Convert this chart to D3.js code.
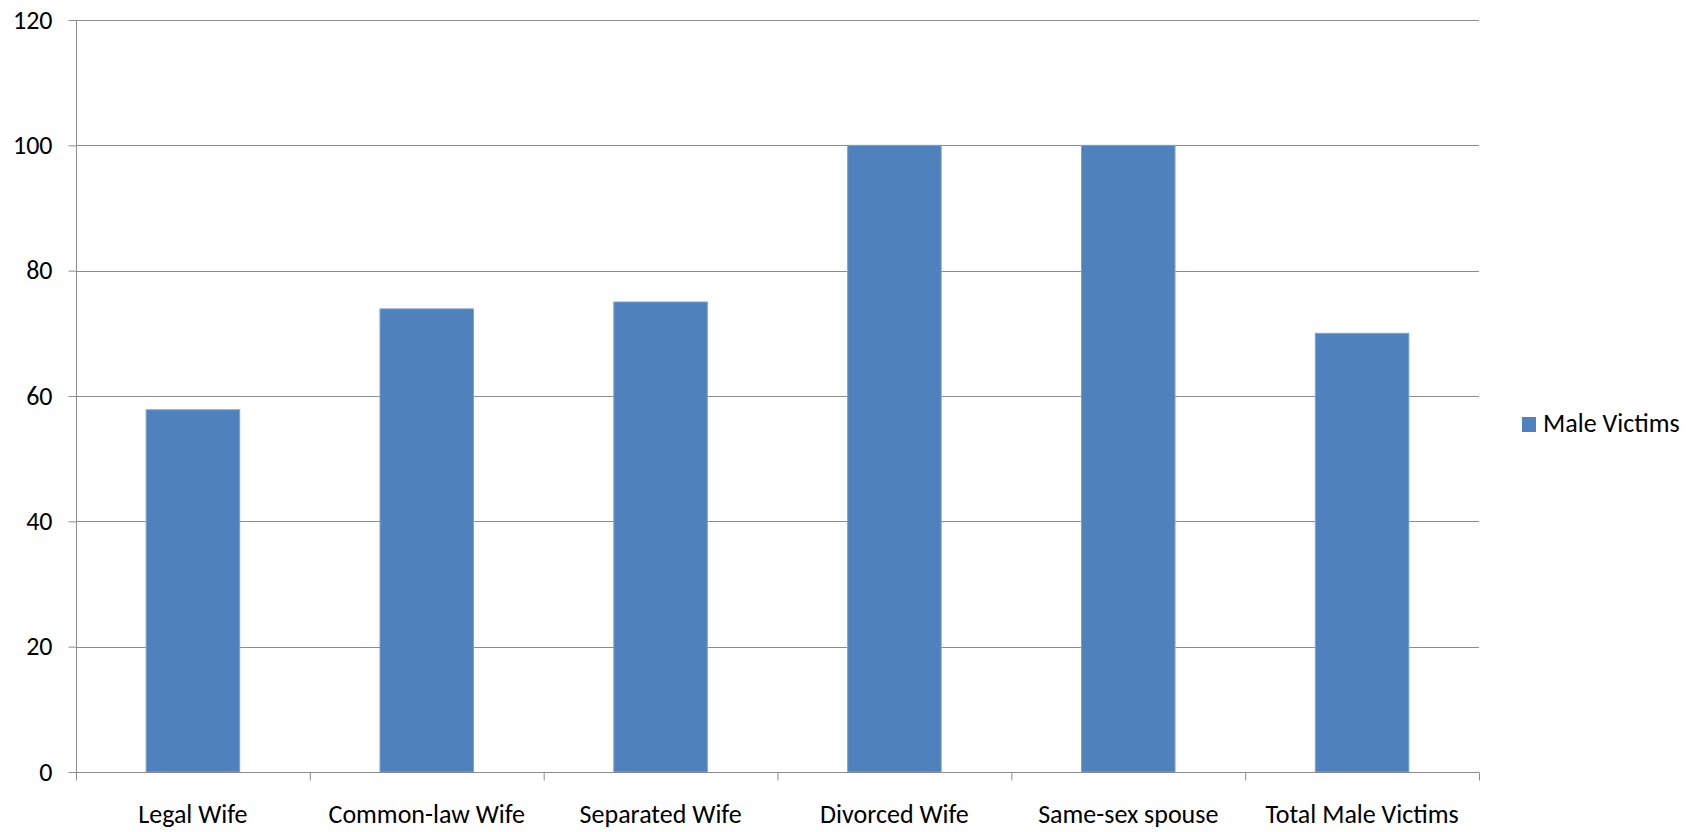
<!DOCTYPE html>
<html>
<head>
<meta charset="utf-8">
<script src="https://cdn.jsdelivr.net/npm/d3@7"></script>
<style>
  html, body { margin: 0; padding: 0; background: #ffffff; }
  svg { display: block; }
  text { font-family: Calibri, Carlito, Lato, "Open Sans", sans-serif; fill: #000; }
</style>
</head>
<body>
<svg id="chart" width="1698" height="832"></svg>
<script>
const categories = ["Legal Wife", "Common-law Wife", "Separated Wife", "Divorced Wife", "Same-sex spouse", "Total Male Victims"];
const maleVictims = [57.8, 73.9, 75, 100, 100, 70];
const yTicks = [0, 20, 40, 60, 80, 100, 120];
const seriesName = "Male Victims";

const W = 1698, H = 832;
const plot = { left: 76, right: 1479, top: 20, bottom: 772 };
const fontSize = 26;
const barColor = "#4F81BD";
const gridColor = "#8c8c8c";

const svg = d3.select("#chart");
svg.append("rect").attr("width", W).attr("height", H).attr("fill", "#fff");

const y = d3.scaleLinear().domain([0, 120]).range([plot.bottom, plot.top]);
const x = d3.scaleBand().domain(categories).range([plot.left, plot.right])
  .paddingInner(0.6).paddingOuter(0.3);
const xEdges = d3.scaleLinear().domain([0, categories.length]).range([plot.left, plot.right]);

// gridlines
svg.append("g").selectAll("line").data(yTicks.filter(d => d > 0)).join("line")
  .attr("x1", plot.left).attr("x2", plot.right)
  .attr("y1", d => Math.round(y(d)) + 0.5).attr("y2", d => Math.round(y(d)) + 0.5)
  .attr("stroke", gridColor).attr("stroke-width", 1);

// bars
svg.append("g").selectAll("rect").data(categories).join("rect")
  .attr("x", d => x(d))
  .attr("width", x.bandwidth())
  .attr("y", (d, i) => y(maleVictims[i]))
  .attr("height", (d, i) => y(0) - y(maleVictims[i]))
  .attr("fill", barColor)
  .attr("stroke", "#7EA1CE")
  .attr("stroke-width", 1);

// y axis
const yAxis = svg.append("g").attr("transform", `translate(${plot.left + 0.5},0)`)
  .call(d3.axisLeft(y).tickValues(yTicks).tickSize(8).tickPadding(16).tickFormat(d3.format("d")));
yAxis.select(".domain").attr("stroke", gridColor).attr("d", `M0,${plot.top}V${plot.bottom + 8}`);
yAxis.selectAll(".tick line").attr("stroke", gridColor);
yAxis.selectAll(".tick text").attr("font-size", fontSize).attr("fill", "#000")
  .style("font-family", "Calibri, Carlito, Lato, sans-serif");

// x axis tick marks at category boundaries
const xAxisTicks = svg.append("g").attr("transform", `translate(0,${Math.round(plot.bottom) + 0.5})`)
  .call(d3.axisBottom(xEdges).tickValues(d3.range(categories.length + 1)).tickSize(8).tickFormat(""));
xAxisTicks.select(".domain").attr("stroke", gridColor).attr("d", `M${plot.left},0H${plot.right}`);
xAxisTicks.selectAll(".tick line").attr("stroke", gridColor);

// x axis labels
const xAxis = svg.append("g").attr("transform", `translate(0,${plot.bottom})`)
  .call(d3.axisBottom(x).tickSize(0).tickPadding(0));
xAxis.select(".domain").remove();
xAxis.selectAll(".tick text").attr("font-size", fontSize).attr("fill", "#000")
  .attr("y", 51).attr("dy", 0)
  .style("font-family", "Calibri, Carlito, Lato, sans-serif");

// legend
const legend = svg.append("g").attr("transform", "translate(1522,417)");
legend.append("rect").attr("width", 14).attr("height", 15).attr("fill", barColor);
legend.append("text").attr("x", 21).attr("y", 15).attr("font-size", fontSize).text(seriesName);
</script>
</body>
</html>
